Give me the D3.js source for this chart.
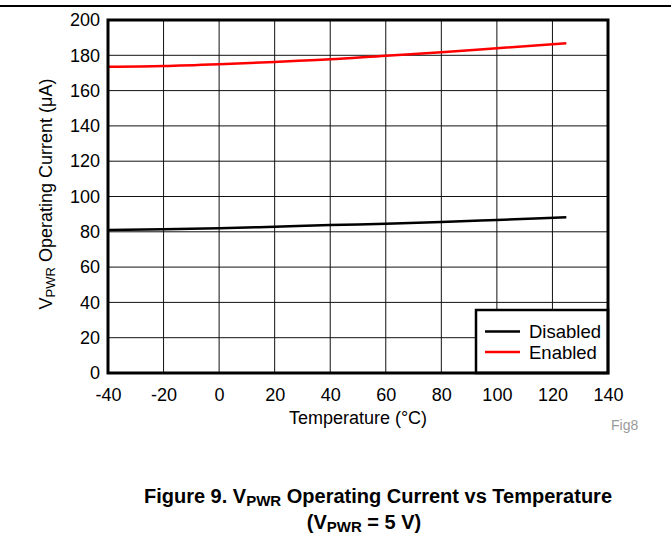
<!DOCTYPE html>
<html>
<head>
<meta charset="utf-8">
<script src="https://cdn.jsdelivr.net/npm/d3@7"></script>
<style>
  html, body { margin: 0; padding: 0; background: #fff; }
  svg { display: block; font-family: "Liberation Sans", Arial, Helvetica, sans-serif; }
</style>
</head>
<body>
<svg id="chart" width="671" height="541"></svg>
<script>
// Operating current vs temperature, V_PWR = 5 V
const temperatures = [-40, -20, 0, 20, 40, 60, 80, 100, 125];
const disabledCurrent = [81.0, 81.4, 82.0, 82.9, 83.8, 84.6, 85.5, 86.7, 88.2];
const enabledCurrent = [173.5, 173.9, 174.9, 176.2, 177.7, 179.8, 181.7, 184.0, 186.8];
const xTicks = [-40, -20, 0, 20, 40, 60, 80, 100, 120, 140];
const yTicks = [0, 20, 40, 60, 80, 100, 120, 140, 160, 180, 200];
const seriesNames = ["Disabled", "Enabled"];

const svg = d3.select("#chart");
const W = 671;
const plot = { left: 108, right: 608, top: 20, bottom: 373 };

const x = d3.scaleLinear().domain([-40, 140]).range([plot.left, plot.right]);
const y = d3.scaleLinear().domain([0, 200]).range([plot.bottom, plot.top]);

// header rule
svg.append("line")
  .attr("x1", 0).attr("x2", W).attr("y1", 6).attr("y2", 6)
  .attr("stroke", "#000").attr("stroke-width", 2);

// grid
const grid = svg.append("g").attr("stroke", "#111").attr("stroke-width", 1);
grid.selectAll("line.v").data(xTicks.slice(1, -1)).join("line")
  .attr("x1", d => x(d)).attr("x2", d => x(d))
  .attr("y1", plot.top).attr("y2", plot.bottom);
grid.selectAll("line.h").data(yTicks.slice(1, -1)).join("line")
  .attr("y1", d => y(d)).attr("y2", d => y(d))
  .attr("x1", plot.left).attr("x2", plot.right);

// axes (labels only, frame drawn separately)
const fmt = d => String(d);
const xAxis = svg.append("g")
  .attr("transform", `translate(0,${plot.bottom})`)
  .call(d3.axisBottom(x).tickValues(xTicks).tickSize(0).tickFormat(fmt));
const yAxis = svg.append("g")
  .attr("transform", `translate(${plot.left},0)`)
  .call(d3.axisLeft(y).tickValues(yTicks).tickSize(0).tickPadding(8).tickFormat(fmt));
[xAxis, yAxis].forEach(a => {
  a.select(".domain").remove();
  a.selectAll("text").attr("font-size", 18).attr("fill", "#000")
    .attr("font-family", "'Liberation Sans', Arial, sans-serif");
});
xAxis.selectAll("text").attr("dy", null).attr("y", 28);

// series
const line = d3.line()
  .x((d, i) => x(temperatures[i]))
  .y(d => y(d))
  .curve(d3.curveMonotoneX);
const colors = { Disabled: "#000", Enabled: "#ff0000" };
svg.append("path").datum(disabledCurrent)
  .attr("d", line).attr("fill", "none")
  .attr("stroke", colors.Disabled).attr("stroke-width", 2.5);
svg.append("path").datum(enabledCurrent)
  .attr("d", line).attr("fill", "none")
  .attr("stroke", colors.Enabled).attr("stroke-width", 2.5);

// legend
const lg = { x: 476, y: 310, w: plot.right - 476, h: plot.bottom - 310 };
svg.append("rect")
  .attr("x", lg.x).attr("y", lg.y).attr("width", lg.w).attr("height", lg.h)
  .attr("fill", "#fff").attr("stroke", "#000").attr("stroke-width", 2.5);
seriesNames.forEach((name, i) => {
  const cy = 331.5 + i * 20.5;
  svg.append("line")
    .attr("x1", 485).attr("x2", 520).attr("y1", cy).attr("y2", cy)
    .attr("stroke", colors[name]).attr("stroke-width", 2.5);
  svg.append("text")
    .attr("x", 529).attr("y", cy + 6.5)
    .attr("font-size", 18.5).text(name);
});

// plot frame
svg.append("rect")
  .attr("x", plot.left).attr("y", plot.top)
  .attr("width", plot.right - plot.left).attr("height", plot.bottom - plot.top)
  .attr("fill", "none").attr("stroke", "#000").attr("stroke-width", 3);

// axis titles
svg.append("text")
  .attr("x", 358).attr("y", 424)
  .attr("text-anchor", "middle").attr("font-size", 18)
  .text("Temperature (°C)");

const yTitle = svg.append("text")
  .attr("transform", `translate(52,194) rotate(-90)`)
  .attr("text-anchor", "middle").attr("font-size", 18);
yTitle.append("tspan").text("V");
yTitle.append("tspan").attr("font-size", 13).attr("dy", 3).text("PWR");
yTitle.append("tspan").attr("dy", -3).text(" Operating Current (μA)");

// figure id
svg.append("text")
  .attr("x", 611).attr("y", 430)
  .attr("font-size", 14).attr("fill", "#9a9a9a").text("Fig8");

// caption
const cap1 = svg.append("text")
  .attr("x", 378).attr("y", 503)
  .attr("text-anchor", "middle").attr("font-size", 20).attr("font-weight", "bold");
cap1.append("tspan").text("Figure 9. V");
cap1.append("tspan").attr("font-size", 15).attr("dy", 3).text("PWR");
cap1.append("tspan").attr("dy", -3).text(" Operating Current vs Temperature");

const cap2 = svg.append("text")
  .attr("x", 364).attr("y", 529)
  .attr("text-anchor", "middle").attr("font-size", 20).attr("font-weight", "bold");
cap2.append("tspan").text("(V");
cap2.append("tspan").attr("font-size", 15).attr("dy", 3).text("PWR");
cap2.append("tspan").attr("dy", -3).text(" = 5 V)");
</script>
</body>
</html>
